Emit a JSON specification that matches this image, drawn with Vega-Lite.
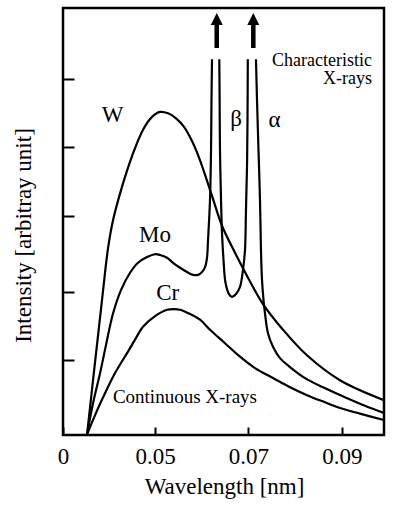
{
  "$schema": "https://vega.github.io/schema/vega-lite/v6.json",
  "width": 321,
  "height": 427,
  "autosize": {"type": "none"},
  "padding": {"left": 63, "top": 8, "right": 11, "bottom": 70},
  "background": "white",
  "config": {
    "view": {"stroke": "black", "strokeWidth": 2.5},
    "font": "'Liberation Serif', 'Times New Roman', Times, serif",
    "axis": {"grid": false, "domain": false, "tickColor": "black", "labelColor": "black", "titleColor": "black", "titleFontWeight": "normal", "labelFont": "'Liberation Serif', 'Times New Roman', Times, serif", "titleFont": "'Liberation Serif', 'Times New Roman', Times, serif"},
    "text": {"font": "'Liberation Serif', 'Times New Roman', Times, serif", "color": "black"}
  },
  "datasets": {
    "curves": [
      {"seg": "W", "wavelength": 0.03545, "intensity": 0.01},
      {"seg": "W", "wavelength": 0.03717, "intensity": 1.03},
      {"seg": "W", "wavelength": 0.03845, "intensity": 1.78},
      {"seg": "W", "wavelength": 0.03931, "intensity": 2.29},
      {"seg": "W", "wavelength": 0.03995, "intensity": 2.63},
      {"seg": "W", "wavelength": 0.04102, "intensity": 3.02},
      {"seg": "W", "wavelength": 0.04294, "intensity": 3.49},
      {"seg": "W", "wavelength": 0.04508, "intensity": 3.92},
      {"seg": "W", "wavelength": 0.04743, "intensity": 4.29},
      {"seg": "W", "wavelength": 0.04936, "intensity": 4.47},
      {"seg": "W", "wavelength": 0.05107, "intensity": 4.54},
      {"seg": "W", "wavelength": 0.05278, "intensity": 4.52},
      {"seg": "W", "wavelength": 0.05449, "intensity": 4.45},
      {"seg": "W", "wavelength": 0.0562, "intensity": 4.33},
      {"seg": "W", "wavelength": 0.05791, "intensity": 4.13},
      {"seg": "W", "wavelength": 0.05963, "intensity": 3.86},
      {"seg": "W", "wavelength": 0.06219, "intensity": 3.36},
      {"seg": "W", "wavelength": 0.06433, "intensity": 2.94},
      {"seg": "W", "wavelength": 0.06711, "intensity": 2.56},
      {"seg": "W", "wavelength": 0.06989, "intensity": 2.21},
      {"seg": "W", "wavelength": 0.0731, "intensity": 1.84},
      {"seg": "W", "wavelength": 0.07738, "intensity": 1.48},
      {"seg": "W", "wavelength": 0.08251, "intensity": 1.12},
      {"seg": "W", "wavelength": 0.08957, "intensity": 0.77},
      {"seg": "W", "wavelength": 0.09898, "intensity": 0.49},

      {"seg": "Mo1", "wavelength": 0.03545, "intensity": 0.01},
      {"seg": "Mo1", "wavelength": 0.03674, "intensity": 0.45},
      {"seg": "Mo1", "wavelength": 0.03824, "intensity": 0.87},
      {"seg": "Mo1", "wavelength": 0.03952, "intensity": 1.27},
      {"seg": "Mo1", "wavelength": 0.04102, "intensity": 1.71},
      {"seg": "Mo1", "wavelength": 0.04273, "intensity": 2.04},
      {"seg": "Mo1", "wavelength": 0.04465, "intensity": 2.28},
      {"seg": "Mo1", "wavelength": 0.04636, "intensity": 2.42},
      {"seg": "Mo1", "wavelength": 0.04829, "intensity": 2.50},
      {"seg": "Mo1", "wavelength": 0.05, "intensity": 2.54},
      {"seg": "Mo1", "wavelength": 0.05107, "intensity": 2.53},
      {"seg": "Mo1", "wavelength": 0.05257, "intensity": 2.49},
      {"seg": "Mo1", "wavelength": 0.05385, "intensity": 2.42},
      {"seg": "Mo1", "wavelength": 0.05535, "intensity": 2.35},
      {"seg": "Mo1", "wavelength": 0.05684, "intensity": 2.29},
      {"seg": "Mo1", "wavelength": 0.05813, "intensity": 2.25},
      {"seg": "Mo1", "wavelength": 0.0592, "intensity": 2.25},
      {"seg": "Mo1", "wavelength": 0.06005, "intensity": 2.29},
      {"seg": "Mo1", "wavelength": 0.0607, "intensity": 2.36},
      {"seg": "Mo1", "wavelength": 0.06112, "intensity": 2.49},
      {"seg": "Mo1", "wavelength": 0.06134, "intensity": 2.74},
      {"seg": "Mo1", "wavelength": 0.06176, "intensity": 3.30},
      {"seg": "Mo1", "wavelength": 0.06198, "intensity": 4.0},
      {"seg": "Mo1", "wavelength": 0.06208, "intensity": 4.71},
      {"seg": "Mo1", "wavelength": 0.06219, "intensity": 5.28},

      {"seg": "Mo2", "wavelength": 0.06375, "intensity": 5.28},
      {"seg": "Mo2", "wavelength": 0.06382, "intensity": 4.71},
      {"seg": "Mo2", "wavelength": 0.0639, "intensity": 4.0},
      {"seg": "Mo2", "wavelength": 0.06412, "intensity": 3.30},
      {"seg": "Mo2", "wavelength": 0.06433, "intensity": 2.84},
      {"seg": "Mo2", "wavelength": 0.06465, "intensity": 2.46},
      {"seg": "Mo2", "wavelength": 0.06508, "intensity": 2.14},
      {"seg": "Mo2", "wavelength": 0.06583, "intensity": 1.98},
      {"seg": "Mo2", "wavelength": 0.06647, "intensity": 1.94},
      {"seg": "Mo2", "wavelength": 0.06733, "intensity": 1.98},
      {"seg": "Mo2", "wavelength": 0.06818, "intensity": 2.08},
      {"seg": "Mo2", "wavelength": 0.06882, "intensity": 2.32},
      {"seg": "Mo2", "wavelength": 0.06925, "intensity": 2.60},
      {"seg": "Mo2", "wavelength": 0.06946, "intensity": 3.16},
      {"seg": "Mo2", "wavelength": 0.06968, "intensity": 3.77},
      {"seg": "Mo2", "wavelength": 0.06979, "intensity": 4.43},
      {"seg": "Mo2", "wavelength": 0.06985, "intensity": 5.28},

      {"seg": "Mo3", "wavelength": 0.0716, "intensity": 5.28},
      {"seg": "Mo3", "wavelength": 0.07182, "intensity": 4.71},
      {"seg": "Mo3", "wavelength": 0.07214, "intensity": 4.0},
      {"seg": "Mo3", "wavelength": 0.07246, "intensity": 3.30},
      {"seg": "Mo3", "wavelength": 0.07267, "intensity": 2.60},
      {"seg": "Mo3", "wavelength": 0.07289, "intensity": 2.18},
      {"seg": "Mo3", "wavelength": 0.07321, "intensity": 1.90},
      {"seg": "Mo3", "wavelength": 0.07353, "intensity": 1.71},
      {"seg": "Mo3", "wavelength": 0.07417, "intensity": 1.43},
      {"seg": "Mo3", "wavelength": 0.07524, "intensity": 1.24},
      {"seg": "Mo3", "wavelength": 0.07674, "intensity": 1.08},
      {"seg": "Mo3", "wavelength": 0.07888, "intensity": 0.955},
      {"seg": "Mo3", "wavelength": 0.08209, "intensity": 0.80},
      {"seg": "Mo3", "wavelength": 0.08594, "intensity": 0.67},
      {"seg": "Mo3", "wavelength": 0.09064, "intensity": 0.53},
      {"seg": "Mo3", "wavelength": 0.09492, "intensity": 0.41},
      {"seg": "Mo3", "wavelength": 0.09898, "intensity": 0.31},

      {"seg": "Cr", "wavelength": 0.03545, "intensity": 0.01},
      {"seg": "Cr", "wavelength": 0.03717, "intensity": 0.28},
      {"seg": "Cr", "wavelength": 0.03888, "intensity": 0.53},
      {"seg": "Cr", "wavelength": 0.04144, "intensity": 0.87},
      {"seg": "Cr", "wavelength": 0.04401, "intensity": 1.15},
      {"seg": "Cr", "wavelength": 0.04572, "intensity": 1.34},
      {"seg": "Cr", "wavelength": 0.04743, "intensity": 1.52},
      {"seg": "Cr", "wavelength": 0.05, "intensity": 1.67},
      {"seg": "Cr", "wavelength": 0.05257, "intensity": 1.76},
      {"seg": "Cr", "wavelength": 0.05406, "intensity": 1.77},
      {"seg": "Cr", "wavelength": 0.05535, "intensity": 1.76},
      {"seg": "Cr", "wavelength": 0.05749, "intensity": 1.70},
      {"seg": "Cr", "wavelength": 0.05963, "intensity": 1.62},
      {"seg": "Cr", "wavelength": 0.06176, "intensity": 1.48},
      {"seg": "Cr", "wavelength": 0.06497, "intensity": 1.29},
      {"seg": "Cr", "wavelength": 0.06818, "intensity": 1.10},
      {"seg": "Cr", "wavelength": 0.07139, "intensity": 0.94},
      {"seg": "Cr", "wavelength": 0.07524, "intensity": 0.80},
      {"seg": "Cr", "wavelength": 0.07888, "intensity": 0.67},
      {"seg": "Cr", "wavelength": 0.08251, "intensity": 0.56},
      {"seg": "Cr", "wavelength": 0.08636, "intensity": 0.46},
      {"seg": "Cr", "wavelength": 0.08957, "intensity": 0.38},
      {"seg": "Cr", "wavelength": 0.09385, "intensity": 0.30},
      {"seg": "Cr", "wavelength": 0.09898, "intensity": 0.21}
    ],
    "elements": [
      {"text": "W", "wavelength": 0.0409, "intensity": 4.40},
      {"text": "Mo", "wavelength": 0.05, "intensity": 2.71},
      {"text": "Cr", "wavelength": 0.0527, "intensity": 1.90},
      {"text": "β", "wavelength": 0.06733, "intensity": 4.34},
      {"text": "α", "wavelength": 0.07556, "intensity": 4.33}
    ],
    "notes": [
      {"text": "Characteristic\nX-rays", "wavelength": 0.09642, "intensity": 5.19}
    ],
    "continuum": [
      {"text": "Continuous X-rays", "wavelength": 0.0564, "intensity": 0.45}
    ],
    "arrows": [
      {"line": "Kβ", "wavelength": 0.0632, "base": 5.438, "shaftTop": 5.80, "head": 5.845},
      {"line": "Kα", "wavelength": 0.07103, "base": 5.438, "shaftTop": 5.80, "head": 5.845}
    ]
  },
  "layer": [
    {
      "data": {"name": "curves"},
      "mark": {"type": "line", "color": "black", "strokeWidth": 2.2, "interpolate": "catmull-rom", "clip": true},
      "encoding": {
        "x": {
          "field": "wavelength", "type": "quantitative",
          "scale": {"domain": [0.0303, 0.099], "nice": false, "zero": false},
          "axis": {
            "values": [0.0303, 0.05, 0.07, 0.09],
            "labelExpr": "datum.value < 0.04 ? '0' : format(datum.value, '.2f')",
            "tickSize": -8, "tickWidth": 2,
            "labelFontSize": 23, "labelBaseline": "alphabetic", "labelPadding": 36, "labelFlush": false,
            "title": "Wavelength [nm]", "titleFontSize": 23, "titleBaseline": "alphabetic", "titleY": 58, "titleX": 161
          }
        },
        "y": {
          "field": "intensity", "type": "quantitative",
          "scale": {"domain": [0, 6], "nice": false},
          "axis": {
            "values": [1.054, 2.009, 3.077, 4.047, 5.002],
            "labels": false,
            "tickSize": -11, "tickWidth": 2,
            "title": "Intensity [arbitray unit]", "titleFontSize": 23, "titleBaseline": "alphabetic",
            "titleX": -33, "titleY": 227, "titleAngle": 270, "titleAlign": "center"
          }
        },
        "detail": {"field": "seg"}
      }
    },
    {
      "data": {"name": "arrows"},
      "mark": {"type": "rule", "color": "black", "strokeWidth": 4.5},
      "encoding": {
        "x": {"field": "wavelength", "type": "quantitative"},
        "y": {"field": "base", "type": "quantitative"},
        "y2": {"field": "shaftTop"}
      }
    },
    {
      "data": {"name": "arrows"},
      "mark": {"type": "point", "shape": "M0,-1L1,1L-1,1Z", "filled": true, "color": "black", "size": 144, "opacity": 1},
      "encoding": {
        "x": {"field": "wavelength", "type": "quantitative"},
        "y": {"field": "head", "type": "quantitative"}
      }
    },
    {
      "data": {"name": "elements"},
      "mark": {"type": "text", "fontSize": 23, "align": "center", "baseline": "alphabetic", "color": "black"},
      "encoding": {
        "x": {"field": "wavelength", "type": "quantitative"},
        "y": {"field": "intensity", "type": "quantitative"},
        "text": {"field": "text"}
      }
    },
    {
      "data": {"name": "notes"},
      "mark": {"type": "text", "fontSize": 18, "align": "right", "baseline": "alphabetic", "color": "black", "lineBreak": "\n", "lineHeight": 18},
      "encoding": {
        "x": {"field": "wavelength", "type": "quantitative"},
        "y": {"field": "intensity", "type": "quantitative"},
        "text": {"field": "text"}
      }
    },
    {
      "data": {"name": "continuum"},
      "mark": {"type": "text", "fontSize": 19, "align": "center", "baseline": "alphabetic", "color": "black"},
      "encoding": {
        "x": {"field": "wavelength", "type": "quantitative"},
        "y": {"field": "intensity", "type": "quantitative"},
        "text": {"field": "text"}
      }
    }
  ]
}
